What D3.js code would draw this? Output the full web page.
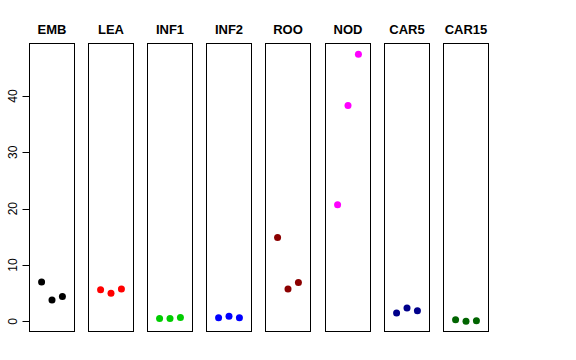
<!DOCTYPE html>
<html>
<head>
<meta charset="utf-8">
<script src="https://cdn.jsdelivr.net/npm/d3@7"></script>
<style>
body { margin: 0; background: #fff; }
text { font-family: "Liberation Sans", Arial, sans-serif; }
</style>
</head>
<body>
<div id="chart"></div>
<script>
var width = 576, height = 360;

// tissues and their colours
var tissues = ["EMB", "LEA", "INF1", "INF2", "ROO", "NOD", "CAR5", "CAR15"];
var colors = ["#000000", "#ff0000", "#00cd00", "#0000ff", "#8b0000", "#ff00ff", "#00008b", "#006400"];
// three replicates per tissue
var values = [
    [7.0, 3.8, 4.4],
    [5.6, 5.0, 5.75],
    [0.53, 0.53, 0.7],
    [0.64, 0.9, 0.64],
    [14.9, 5.75, 6.9],
    [20.7, 38.3, 47.4],
    [1.48, 2.37, 1.9],
    [0.3, 0.05, 0.1]
];
var yTicks = [0, 10, 20, 30, 40];

var panelLeft = 29, panelW = 45, panelStep = 59.1,
    plotTop = 43, plotBottom = 331;

var svg = d3.select("#chart").append("svg")
    .attr("width", width)
    .attr("height", height);

var y = d3.scaleLinear().domain([-1.7, 49.4]).range([plotBottom, plotTop]);
var x = d3.scaleLinear().domain([-0.16, 4.16]).range([0, panelW]);

tissues.forEach(function (t, i) {
    var x0 = Math.round(panelLeft + i * panelStep);
    var g = svg.append("g").attr("transform", "translate(" + x0 + ",0)");

    g.append("rect")
        .attr("x", 0.5)
        .attr("y", plotTop + 0.5)
        .attr("width", panelW)
        .attr("height", plotBottom - plotTop)
        .attr("fill", "none")
        .attr("stroke", "#000")
        .attr("stroke-width", 1);

    g.append("text")
        .attr("x", panelW / 2 + 0.5)
        .attr("y", 34)
        .attr("text-anchor", "middle")
        .style("font-size", "13px")
        .style("font-weight", "bold")
        .text(t);

    g.selectAll("circle")
        .data(values[i])
        .enter().append("circle")
        .attr("cx", function (d, j) { return x(j + 1) + 0.5; })
        .attr("cy", function (d) { return y(d); })
        .attr("r", 3.5)
        .attr("fill", colors[i]);
});

// y axis on the first panel
var axis = svg.append("g").attr("transform", "translate(" + (panelLeft + 0.5) + ",0)");
axis.append("line")
    .attr("x1", 0).attr("x2", 0)
    .attr("y1", y(0)).attr("y2", y(40))
    .attr("stroke", "#000");
axis.selectAll(".tick")
    .data(yTicks)
    .enter().append("line")
    .attr("x1", -7).attr("x2", 0)
    .attr("y1", function (d) { return Math.round(y(d)) + 0.5; })
    .attr("y2", function (d) { return Math.round(y(d)) + 0.5; })
    .attr("stroke", "#000");
axis.selectAll(".lab")
    .data(yTicks)
    .enter().append("text")
    .attr("transform", function (d) { return "translate(-13," + y(d) + ") rotate(-90)"; })
    .attr("text-anchor", "middle")
    .style("font-size", "12px")
    .text(function (d) { return d; });
</script>
</body>
</html>
